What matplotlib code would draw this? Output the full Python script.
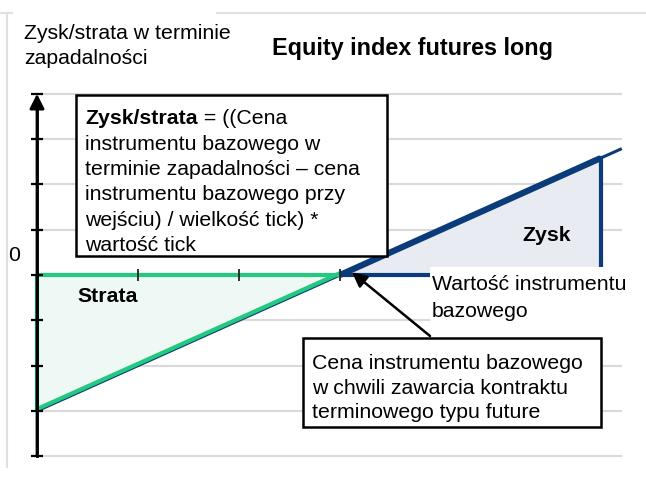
import matplotlib
matplotlib.use("Agg")
import matplotlib.pyplot as plt
from matplotlib.patches import Polygon, Rectangle

plt.rcParams['font.family'] = ['Liberation Sans', 'DejaVu Sans']

# ---- data ----
entry_price = 3.0          # price at entry (x units)
expiry_price = 5.58        # example price at expiry
price_range = [0.0, 5.79]  # underlying price range
x_ticks = [1, 2, 3]
y_ticks = [-4, -3, -2, -1, 0, 1, 2, 3, 4]
zero_label = "0"

title = "Equity index futures long"
y_title = "Zysk/strata w terminie\nzapadalności"
formula_bold = "Zysk/strata"
formula_first = " = ((Cena"
formula_rest = "instrumentu bazowego w\nterminie zapadalności – cena\ninstrumentu bazowego przy\nwejściu) / wielkość tick) *\nwartość tick"
label_profit = "Zysk"
label_loss = "Strata"
label_underlying = "Wartość instrumentu\nbazowego"
label_entry = "Cena instrumentu bazowego\nw chwili zawarcia kontraktu\nterminowego typu future"

BLUE = "#0c3b7a"
GREEN = "#22c97f"
GREEN_FILL = "#eef8f4"
BLUE_FILL = "#e8ebf1"
GRID = "#d9d9d9"
FS = 15.3

W, H = 646, 481
fig = plt.figure(figsize=(W / 100, H / 100), dpi=100)
ax = fig.add_axes([0, 0, 1, 1])
ax.set_xlim(-37 / 101, (W - 37) / 101)
ax.set_ylim(-(H - 276) / 45.3, 276 / 45.3)
ax.axis('off')


def fx(px):
    return px / W


def fy(py):
    return 1 - py / H


def payoff(p):
    return p - entry_price

# frame lines (light gray)
fig.add_artist(plt.Line2D([fx(7), fx(7)], [fy(14), fy(468)], color="#e0e0e0", lw=1.5))
fig.add_artist(plt.Line2D([0, fx(12)], [fy(14), fy(14)], color="#e0e0e0", lw=1.5))
fig.add_artist(plt.Line2D([fx(217), 1], [fy(14), fy(14)], color="#e0e0e0", lw=1.5))

# gridlines
ax.hlines(y_ticks, 0, price_range[1], colors=GRID, lw=1.5, zorder=1)

# loss triangle
ax.add_patch(Polygon([(0, 0), (entry_price, 0), (0, payoff(0))], closed=True,
                     facecolor=GREEN_FILL, edgecolor='none', zorder=2))
# profit triangle
ax.add_patch(Polygon([(entry_price, 0), (expiry_price, 0), (expiry_price, payoff(expiry_price))],
                     closed=True, facecolor=BLUE_FILL, edgecolor='none', zorder=2))

# payoff line (thin, full range)
ax.plot(price_range, [payoff(p) for p in price_range], color=BLUE, lw=2.2, zorder=3,
        solid_capstyle='butt')
# thick profit part
ax.plot([entry_price, expiry_price], [0, payoff(expiry_price)], color=BLUE, lw=4.5, zorder=4,
        solid_capstyle='butt')
ax.plot([expiry_price, expiry_price], [0, payoff(expiry_price)], color=BLUE, lw=3, zorder=4)
ax.plot([entry_price, expiry_price], [0, 0], color=BLUE, lw=3, zorder=4)

# loss triangle edges (green)
ax.plot([0, entry_price], [0, 0], color=GREEN, lw=3, zorder=5, solid_capstyle='butt')
ax.plot([0, 0], [0, payoff(0)], color=GREEN, lw=3, zorder=5, solid_capstyle='butt')
ax.plot([0, entry_price], [payoff(0) + 0.04, 0.04], color=GREEN, lw=3, zorder=5,
        solid_capstyle='butt')

# y axis with arrow
ax.annotate("", xy=(0, y_ticks[-1]), xytext=(0, y_ticks[0]),
            arrowprops=dict(arrowstyle='-|>', color='black', lw=2, mutation_scale=22,
                            shrinkA=0, shrinkB=0), zorder=6)
ax.plot([0, 0], [y_ticks[0], y_ticks[-1] - 0.3], color='black', lw=2, zorder=6)
tick_dx = 6 / 101
ax.hlines(y_ticks, -tick_dx, tick_dx, colors='black', lw=1.6, zorder=6)
tick_dy = 6 / 45.3
ax.vlines(x_ticks, -tick_dy, tick_dy, colors='#222222', lw=1.3, zorder=6)

ax.text(-0.23, 0.46, zero_label, fontsize=FS, ha='center', va='center')

# titles
fig.text(fx(24), fy(46), y_title, fontsize=FS, ha='left', va='center', linespacing=1.38)
fig.text(fx(272), fy(48), title, fontsize=16.8, fontweight='bold', ha='left', va='center')

# formula box
fig.add_artist(Rectangle((fx(76), fy(257)), fx(387) - fx(76), fy(96) - fy(257),
                         transform=fig.transFigure, facecolor='white', edgecolor='black',
                         lw=1.8, zorder=7))
tb = fig.text(fx(85), fy(118), formula_bold, fontsize=FS, fontweight='bold',
              ha='left', va='center', zorder=9)
fig.canvas.draw()
bb = tb.get_window_extent()
fig.text(bb.x1 / W, fy(118), formula_first, fontsize=FS, ha='left', va='center', zorder=9)
fig.text(fx(85), fy(195), formula_rest, fontsize=FS, ha='left', va='center',
         linespacing=1.43, zorder=8)

# labels
ax.text((547 - 37) / 101, (276 - 236) / 45.3, label_profit, fontsize=FS, fontweight='bold',
        ha='center', va='center', zorder=8)
ax.text((108 - 37) / 101, (276 - 297) / 45.3, label_loss, fontsize=FS, fontweight='bold',
        ha='center', va='center', zorder=8)

# underlying label with white background
fig.add_artist(Rectangle((fx(430), fy(324)), fx(632) - fx(430), fy(268) - fy(324),
                         transform=fig.transFigure, facecolor='white', edgecolor='none',
                         zorder=7))
fig.text(fx(432), fy(298), label_underlying, fontsize=FS, ha='left', va='center',
         linespacing=1.48, zorder=8)

# entry price box
fig.add_artist(Rectangle((fx(303), fy(428)), fx(601) - fx(303), fy(339) - fy(428),
                         transform=fig.transFigure, facecolor='white', edgecolor='black',
                         lw=1.8, zorder=7))
fig.text(fx(312), fy(388), label_entry, fontsize=FS, ha='left', va='center',
         linespacing=1.38, zorder=8)

ax.annotate("", xy=(entry_price + 0.12, 0.06), xycoords='data',
            xytext=(fx(430), fy(337)), textcoords='figure fraction',
            arrowprops=dict(arrowstyle='-|>', color='black', lw=1.8, mutation_scale=22,
                            shrinkA=0, shrinkB=0), zorder=9)

fig.savefig("out.png", dpi=100)
